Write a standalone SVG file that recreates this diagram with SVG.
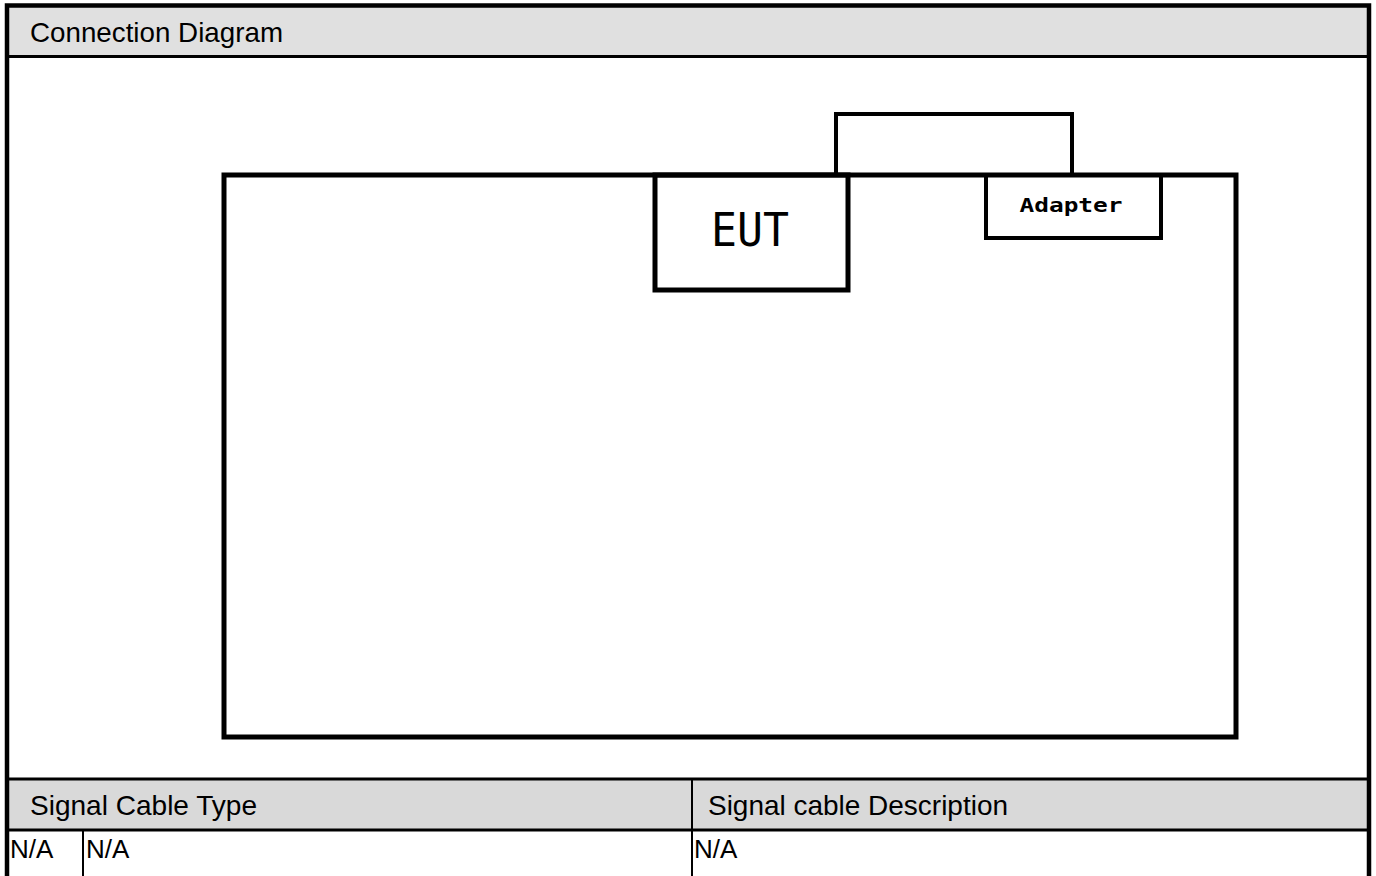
<svg xmlns="http://www.w3.org/2000/svg" width="1376" height="876" viewBox="0 0 1376 876">
<style>
.t{font-family:"Liberation Sans",Arial,sans-serif;font-size:27.5px;fill:#000}
.n{font-family:"Liberation Sans",Arial,sans-serif;font-size:26px;fill:#000}
.box{fill:none;stroke:#000}
</style>
<rect x="0" y="0" width="1376" height="876" fill="#fff"/>
<g id="frame">
<rect x="7" y="6" width="1362" height="50" fill="#e0e0e0"/>
<rect x="7" y="779" width="1362" height="51" fill="#d9d9d9"/>
<line x1="7" y1="56.5" x2="1369" y2="56.5" stroke="#000" stroke-width="3"/>
<line x1="7" y1="779" x2="1369" y2="779" stroke="#000" stroke-width="3"/>
<line x1="7" y1="830" x2="1369" y2="830" stroke="#000" stroke-width="3"/>
<line x1="83" y1="830" x2="83" y2="876" stroke="#000" stroke-width="2"/>
<line x1="692" y1="779" x2="692" y2="876" stroke="#000" stroke-width="2"/>
<path d="M7 876 V5.5 H1369 V876" fill="none" stroke="#000" stroke-width="4.5"/>
<text class="t" x="30" y="42" textLength="253" lengthAdjust="spacingAndGlyphs">Connection Diagram</text>
<text class="t" x="30" y="815" textLength="227" lengthAdjust="spacingAndGlyphs">Signal Cable Type</text>
<text class="t" x="708" y="815" textLength="300" lengthAdjust="spacingAndGlyphs">Signal cable Description</text>
<text class="n" x="10" y="858">N/A</text>
<text class="n" x="86" y="858">N/A</text>
<text class="n" x="694" y="858">N/A</text>
</g>
<g id="table-area">
<rect class="box" x="224" y="175" width="1012" height="562" stroke-width="5"/>
</g>
<g id="EUT">
<rect class="box" x="655" y="175" width="193" height="115" stroke-width="5"/>
<text x="750" y="246" text-anchor="middle" font-family="DejaVu Sans Mono,monospace" font-size="46" textLength="78" lengthAdjust="spacingAndGlyphs">EUT</text>
</g>
<g id="Adapter">
<rect class="box" x="986" y="175" width="175" height="63" stroke-width="4"/>
<text x="1071" y="212" text-anchor="middle" font-family="DejaVu Sans Mono,monospace" font-weight="bold" font-size="20" textLength="103" lengthAdjust="spacingAndGlyphs">Adapter</text>
</g>
<g id="connectors">
<path d="M836 175 V114 H1072 V175" fill="none" stroke="#000" stroke-width="4"/>
</g>
</svg>
